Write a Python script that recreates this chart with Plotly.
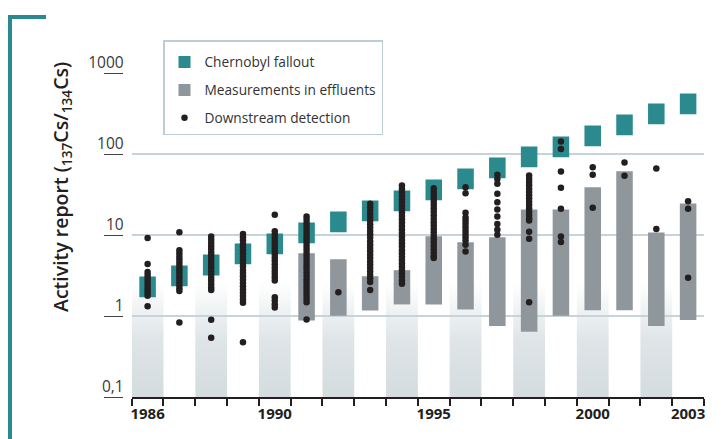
import plotly.graph_objects as go

# ---------------- data ----------------
years = list(range(1986, 2004))
fallout_low = [1.71, 2.33, 3.16, 4.36, 5.8, 7.9, 10.8, 14.8, 19.7, 26.9, 36.8, 50.3, 68.7, 91.3, 125, 170, 233, 310]
fallout_high = [3.07, 4.2, 5.75, 7.85, 10.4, 14.3, 19.5, 26.7, 35.4, 48.4, 66.2, 90.5, 124, 164, 225, 307, 420, 558]

effluent_years = list(range(1991, 2004))
effluent_low = [0.88, 1.01, 1.17, 1.39, 1.39, 1.2, 0.75, 0.64, 1.01, 1.18, 1.18, 0.75, 0.89]
effluent_high = [5.96, 5.02, 3.1, 3.68, 9.67, 8.15, 9.4, 20.6, 20.6, 38.9, 61.3, 10.7, 24.5]

det_1986 = [9.2, 4.4, 3.5, 3.2, 2.95, 2.7, 2.48, 2.28, 2.1, 1.93, 1.78, 1.32]
det_1987 = [10.8, 6.5, 5.9, 5.4, 4.95, 4.5, 4.1, 3.75, 3.45, 3.15, 2.88, 2.62, 2.4, 2.2, 2.03, 0.83]
det_1988 = [9.6, 8.8, 8.0, 7.3, 6.7, 6.1, 5.6, 5.1, 4.65, 4.25, 3.9, 3.55, 3.25, 2.95, 2.7, 2.47, 2.25, 2.1, 0.9, 0.54]
det_1989 = [10.3, 9.4, 8.6, 7.8, 7.1, 6.5, 5.9, 5.4, 4.9, 4.5, 4.1, 3.7, 3.4, 3.1, 2.8, 2.55, 2.33, 2.12,
            1.93, 1.76, 1.6, 1.46, 0.475]
det_1990 = [17.8, 11.1, 10.1, 9.2, 8.4, 7.6, 6.9, 6.3, 5.75, 5.25, 4.8, 4.35, 3.95, 3.6, 3.3, 3.0, 2.75,
            1.71, 1.55, 1.4, 1.27]
det_1991 = [16.9, 15.4, 14.0, 12.8, 11.6, 10.6, 9.6, 8.8, 8.0, 7.3, 6.6, 6.0, 5.5, 5.0, 4.55, 4.15, 3.8,
            3.45, 3.15, 2.85, 2.6, 2.35, 2.15, 1.95, 1.78, 1.62, 1.48, 0.905]
det_1992 = [1.97]
det_1993 = [24.3, 22.0, 20.0, 18.2, 16.5, 15.0, 13.6, 12.4, 11.2, 10.2, 9.3, 8.4, 7.6, 6.9, 6.3, 5.7, 5.2,
            4.7, 4.3, 3.9, 3.55, 3.2, 2.9, 2.62, 2.1]
det_1994 = [40.8, 37, 33.6, 30.5, 27.7, 25.2, 22.9, 20.8, 18.9, 17.2, 15.6, 14.2, 12.9, 11.7, 10.6, 9.6,
            8.7, 7.9, 7.2, 6.5, 5.9, 5.4, 4.9, 4.45, 4.05, 3.7, 3.35, 3.05, 2.75, 2.5]
det_1995 = [37.8, 34.3, 31.2, 28.3, 25.7, 23.4, 21.2, 19.3, 17.5, 15.9, 14.4, 13.1, 11.9, 10.8, 9.8, 8.9,
            8.1, 7.3, 6.65, 6.05, 5.5, 5.2]
det_1996 = [38.9, 32.8, 18.8, 16.5, 15.1, 13.8, 12.5, 11.3, 10.3, 9.4, 8.55, 7.6, 6.25]
det_1997 = [55.3, 49.2, 42.9, 32.3, 25.4, 20.6, 16.9, 13.7, 11.6, 10.1]
det_1998 = [54.3, 49.5, 45, 41, 37.3, 34, 31, 28.2, 25.7, 23.4, 21.3, 19.4, 17.6, 16.1, 15.1, 10.95, 8.98, 1.48]
det_1999 = [142.6, 115, 60.8, 38.3, 21.1, 9.58, 8.2]
det_2000 = [68.7, 55.4, 21.7]
det_2001 = [78.6, 53.8]
det_2002 = [66.2, 11.9]
det_2003 = [26.1, 21.1, 2.96]

detections = {1986: det_1986, 1987: det_1987, 1988: det_1988, 1989: det_1989, 1990: det_1990,
              1991: det_1991, 1992: det_1992, 1993: det_1993, 1994: det_1994, 1995: det_1995,
              1996: det_1996, 1997: det_1997, 1998: det_1998, 1999: det_1999, 2000: det_2000,
              2001: det_2001, 2002: det_2002, 2003: det_2003}

band_years = [1986, 1988, 1990, 1992, 1994, 1996, 1998, 2000, 2002]
band_bottom = 0.1
band_top = 2.6

x_label_years = [1986, 1990, 1995, 2000, 2003]
x_cell_edges = [y - 0.5 for y in years] + [years[-1] + 0.5]
y_tickvals = [0.1, 1, 10, 100, 1000]
y_ticktext = ["0,1", "1", "10", "100", "1000"]

# ---------------- style ----------------
TEAL = "#2a8a8e"
GRAY = "#8f979c"
DOT = "#231f20"
DARK = "#231f20"
GRID = "#c6d4da"
FONT = "Open Sans"

# the page body adds an 8px margin, so the figure is 8px smaller than the window
OFF = 8
W, H = 728 - OFF, 439 - OFF
ML, MR, MT, MB = 92, 24, 65, 42
PW = W - ML - MR
PH = H - MT - MB


def px(xr):
    # reference-window x pixel -> paper fraction
    return (xr - OFF - ML) / PW


def py(yr):
    # reference-window y pixel -> paper fraction
    return (H - MB - (yr - OFF)) / PH


fig = go.Figure()

# background bands (even years)
bx, by = [], []
for yr in band_years:
    bx += [yr - 0.5, yr + 0.5, yr + 0.5, yr - 0.5, yr - 0.5, None]
    by += [band_bottom, band_bottom, band_top, band_top, band_bottom, None]
fig.add_trace(go.Scatter(
    x=bx, y=by, mode="lines", line=dict(width=0), fill="toself",
    fillgradient=dict(type="vertical",
                      colorscale=[[0, "rgba(200,210,214,0.78)"], [0.5, "rgba(200,210,214,0.58)"],
                                  [1, "rgba(200,210,214,0)"]]),
    hoverinfo="skip", showlegend=False, xaxis="x", yaxis="y"))

fig.add_trace(go.Bar(
    x=effluent_years, y=[h - l for l, h in zip(effluent_low, effluent_high)], base=effluent_low,
    width=0.52, marker=dict(color=GRAY, line=dict(width=0)), name="Measurements in effluents",
    legendrank=2, legendgroup="b", xaxis="x", yaxis="y2"))

fig.add_trace(go.Bar(
    x=years, y=[h - l for l, h in zip(fallout_low, fallout_high)], base=fallout_low,
    width=0.52, marker=dict(color=TEAL, line=dict(width=0)), name="Chernobyl fallout",
    legendrank=1, legendgroup="a", xaxis="x", yaxis="y2"))

dx, dy = [], []
for yr, vals in detections.items():
    dx += [yr] * len(vals)
    dy += vals
fig.add_trace(go.Scatter(
    x=dx, y=dy, mode="markers", marker=dict(size=6.5, color=DOT, line=dict(width=0)),
    name="Downstream detection", legendrank=3, legendgroup="c", xaxis="x", yaxis="y2"))

fig.update_layout(
    width=W, height=H,
    margin=dict(l=ML, r=MR, t=MT, b=MB, autoexpand=False),
    paper_bgcolor="white", plot_bgcolor="rgba(0,0,0,0)",
    barmode="overlay",
    font=dict(family=FONT, color=DARK),
    xaxis=dict(
        domain=[px(131.7), 1], range=[1985.5, 2003.5],
        tickmode="array", tickvals=x_label_years, ticktext=[str(v) for v in x_label_years],
        ticks="", showline=True, linecolor=DARK, linewidth=1.5, showgrid=False, zeroline=False,
        tickfont=dict(family=FONT, size=15, color=DARK, weight="bold"),
        ticklabelstandoff=2, automargin=False,
        minor=dict(tickmode="array", tickvals=x_cell_edges, ticks="outside", ticklen=7,
                   tickwidth=1.5, tickcolor=DARK, showgrid=False),
    ),
    yaxis=dict(
        type="log", range=[-1, 3], tickmode="array", tickvals=y_tickvals, ticktext=y_ticktext,
        ticks="", showgrid=True, gridcolor=GRID, gridwidth=1.5, zeroline=False, showline=False,
        tickfont=dict(family=FONT, size=15.5, color="#3a3a3a"),
        ticklabelshift=-10, ticklabelstandoff=7, automargin=False,
    ),
    yaxis2=dict(
        type="log", range=[-1, 3], overlaying="y", anchor="free", position=px(123), side="left",
        tickmode="array", tickvals=y_tickvals, showticklabels=False, ticks="outside", ticklen=19,
        tickwidth=1.2, tickcolor="#444", showgrid=False, showline=False, zeroline=False,
        automargin=False,
    ),
    legend=dict(
        x=px(163), y=py(40), xanchor="left", yanchor="top",
        bgcolor="white", bordercolor="#bccdd5", borderwidth=1.5,
        font=dict(family=FONT, size=13.7, color="#333"), tracegroupgap=7,
        traceorder="grouped", itemwidth=30,
        title=dict(text=" ", font=dict(size=4)),
    ),
    showlegend=True,
    annotations=[dict(
        text="Activity report (<sub>137</sub>Cs/<sub>134</sub>Cs)", textangle=-90,
        xref="paper", yref="paper", x=px(61), y=py(187), xanchor="center", yanchor="middle",
        showarrow=False, font=dict(family=FONT, size=19.5, color=DARK, weight=600),
    )],
    shapes=[
        dict(type="line", xref="paper", yref="paper", x0=px(10), x1=px(10), y0=py(441), y1=py(15),
             line=dict(color=TEAL, width=4)),
        dict(type="line", xref="paper", yref="paper", x0=px(8), x1=px(46), y0=py(17), y1=py(17),
             line=dict(color=TEAL, width=4)),
    ],
)

fig.write_html("out.html")
